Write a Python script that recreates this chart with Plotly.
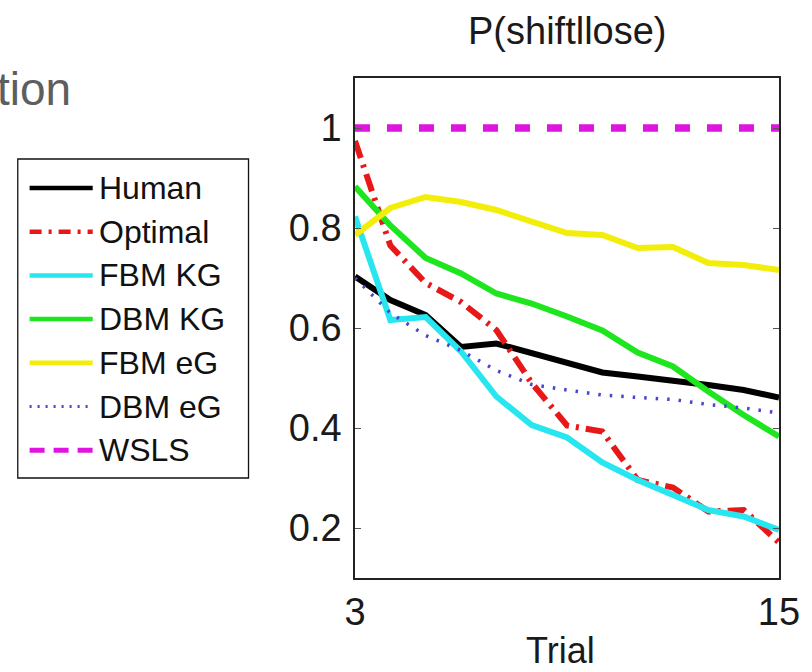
import plotly.graph_objects as go

# ---------------- data ----------------
trials = [3, 4, 5, 6, 7, 8, 9, 10, 11, 12, 13, 14, 15]

human   = [0.703, 0.656, 0.626, 0.562, 0.569, 0.549, 0.529, 0.511, 0.503, 0.496, 0.486, 0.476, 0.461]
optimal = [0.974, 0.765, 0.690, 0.652, 0.596, 0.490, 0.405, 0.393, 0.296, 0.281, 0.233, 0.236, 0.171]
fbm_kg  = [0.823, 0.616, 0.622, 0.553, 0.463, 0.406, 0.381, 0.331, 0.296, 0.266, 0.236, 0.223, 0.196]
dbm_kg  = [0.883, 0.805, 0.740, 0.709, 0.669, 0.649, 0.623, 0.595, 0.551, 0.523, 0.473, 0.426, 0.383]
fbm_eg  = [0.786, 0.840, 0.862, 0.852, 0.836, 0.812, 0.790, 0.786, 0.760, 0.762, 0.730, 0.726, 0.716]
dbm_eg  = [0.700, 0.630, 0.585, 0.555, 0.515, 0.487, 0.476, 0.466, 0.461, 0.457, 0.447, 0.440, 0.430]
wsls    = [1.0, 1.0, 1.0, 1.0, 1.0, 1.0, 1.0, 1.0, 1.0, 1.0, 1.0, 1.0, 1.0]

series_names = ["Human", "Optimal", "FBM KG", "DBM KG", "FBM eG", "DBM eG", "WSLS"]
series_values = [human, optimal, fbm_kg, dbm_kg, fbm_eg, dbm_eg, wsls]

ytick_vals = [0.2, 0.4, 0.6, 0.8, 1.0]
ytick_text = ["0.2", "0.4", "0.6", "0.8", "1"]
xtick_vals = [3, 15]
xtick_text = ["3", "15"]

title_text = "P(shiftllose)"
xlabel_text = "Trial"
corner_text = "tion"

# ---------------- styles ----------------
colors = ["#000000", "#e81818", "#28e6f0", "#1ee61e", "#f2ee0a", "#4646d0", "#e014e0"]
widths = [6, 6, 6, 6, 6, 3.5, 7.5]
dashes = ["solid", "18px,7px,3px,7px", "solid", "solid", "solid", "2.5px,9px", "15px,17px"]
leg_widths = [4.5, 4.5, 4.5, 4.5, 4.5, 3, 5]
leg_dashes = ["solid", "12px,7px,3px,7px", "solid", "solid", "solid", "2px,6px", "15px,9px"]

FONT = "Liberation Sans, Arial, Helvetica, sans-serif"
W, H = 812, 672
L, R, T, B = 355, 785, 78, 578  # plot area in pixels

def px(xp):
    return (xp - L) / (R - L)

def py(yp):
    return (B - yp) / (B - T)

fig = go.Figure()
for name, vals, c, w, d in zip(series_names, series_values, colors, widths, dashes):
    fig.add_trace(go.Scatter(
        x=trials, y=vals, mode="lines", name=name,
        line=dict(color=c, width=w, dash=d),
        showlegend=False,
    ))

shapes = []
annotations = []

# custom legend box
shapes.append(dict(type="rect", xref="paper", yref="paper",
                   x0=px(13), x1=px(247), y0=py(159), y1=py(478),
                   line=dict(color="#111111", width=1.3), fillcolor="white", layer="above"))
for i, (name, c, w, d) in enumerate(zip(series_names, colors, leg_widths, leg_dashes)):
    yc = 188 + 43.7 * i
    shapes.append(dict(type="line", xref="paper", yref="paper",
                       x0=px(25), x1=px(89), y0=py(yc), y1=py(yc),
                       line=dict(color=c, width=w, dash=d), layer="above"))
    annotations.append(dict(text=name, xref="paper", yref="paper",
                            x=px(93), y=py(yc), xanchor="left", yanchor="middle",
                            showarrow=False, font=dict(size=32, color="#111111", family=FONT)))

# title, x label, stray slide text
annotations.append(dict(text=title_text, xref="paper", yref="paper",
                        x=px(570), y=py(31), xanchor="center", yanchor="middle",
                        showarrow=False, font=dict(size=38, color="#1a1a1a", family=FONT)))
annotations.append(dict(text=xlabel_text, xref="paper", yref="paper",
                        x=px(563), y=py(650), xanchor="center", yanchor="middle",
                        showarrow=False, font=dict(size=36, color="#1a1a1a", family=FONT)))
annotations.append(dict(text=corner_text, xref="paper", yref="paper",
                        x=px(69), y=py(89), xanchor="right", yanchor="middle",
                        showarrow=False, font=dict(size=46, color="#5e5e5e", family=FONT)))

fig.update_layout(
    width=W, height=H,
    margin=dict(l=L, r=W - R, t=T, b=H - B, pad=0),
    paper_bgcolor="white", plot_bgcolor="white",
    font=dict(family=FONT, color="#1a1a1a"),
    shapes=shapes, annotations=annotations,
    showlegend=False,
)
fig.update_xaxes(range=[3, 15], tickvals=xtick_vals, ticktext=xtick_text,
                 showgrid=False, zeroline=False, showline=True, linecolor="#222222", linewidth=1.5,
                 mirror="ticks", ticks="inside", ticklen=6, tickcolor="#555555",
                 tickfont=dict(size=38, family=FONT, color="#1a1a1a"), ticklabelstandoff=0)
fig.update_yaxes(range=[0.1, 1.1], tickvals=ytick_vals, ticktext=ytick_text,
                 showgrid=False, zeroline=False, showline=True, linecolor="#222222", linewidth=1.5,
                 mirror="ticks", ticks="inside", ticklen=6, tickcolor="#555555",
                 tickfont=dict(size=38, family=FONT, color="#1a1a1a"), ticklabelstandoff=4)

fig.write_html("out.html")
